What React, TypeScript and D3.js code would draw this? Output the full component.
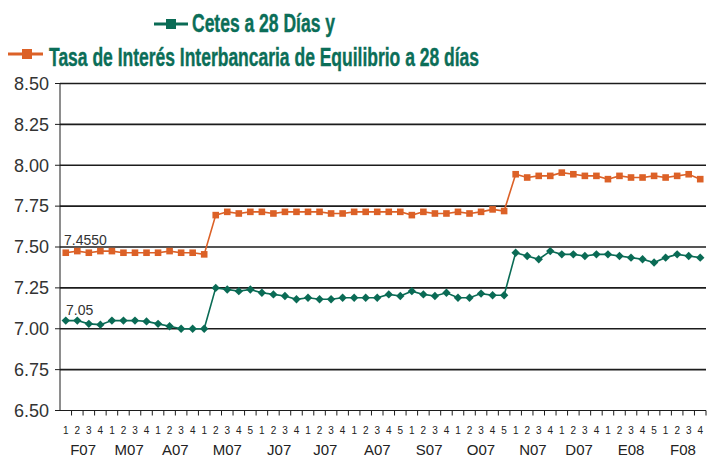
import React from "react";
import * as d3 from "d3";

const months = ["F07", "M07", "A07", "M07", "J07", "J07", "A07", "S07", "O07", "N07", "D07", "E08", "F08"];
const weeksPerMonth = [4, 4, 4, 5, 4, 4, 5, 4, 5, 4, 4, 5, 4];

const cetes = [
  7.05, 7.05, 7.03, 7.025, 7.05, 7.05, 7.05, 7.045, 7.03, 7.015, 7.0, 7.0, 7.0,
  7.25, 7.24, 7.23, 7.24, 7.22, 7.21, 7.2, 7.18, 7.19, 7.18, 7.18, 7.19, 7.19, 7.19, 7.19, 7.21, 7.2, 7.23, 7.21, 7.2,
  7.22, 7.19, 7.19, 7.215, 7.205, 7.205,
  7.465, 7.445, 7.425, 7.475, 7.455, 7.455, 7.445, 7.455, 7.455, 7.445, 7.435, 7.425, 7.405, 7.435, 7.455, 7.445, 7.435,
];

const tiie = [
  7.465, 7.475, 7.465, 7.475, 7.475, 7.465, 7.465, 7.465, 7.465, 7.475, 7.465, 7.465, 7.455,
  7.695, 7.715, 7.705, 7.715, 7.715, 7.705, 7.715, 7.715, 7.715, 7.715, 7.705, 7.705, 7.715, 7.715, 7.715, 7.715, 7.715, 7.695, 7.715, 7.705, 7.705, 7.715, 7.705, 7.715, 7.73, 7.72,
  7.945, 7.925, 7.935, 7.935, 7.955, 7.945, 7.935, 7.935, 7.915, 7.935, 7.925, 7.925, 7.935, 7.925, 7.935, 7.945, 7.915,
];

const yTicks = [6.5, 6.75, 7.0, 7.25, 7.5, 7.75, 8.0, 8.25, 8.5];
const titleLine1 = "Cetes a 28 Días y";
const titleLine2 = "Tasa de Interés Interbancaria de Equilibrio a 28 días";
const labelTiie = "7.4550";
const labelCetes = "7.05";

const GREEN = "#0a6b55";
const ORANGE = "#dc6127";
const TITLE = "#0b6e58";

export default function App() {
  const cats: { key: string; week: number; month: number }[] = [];
  weeksPerMonth.forEach((n, m) => {
    for (let w = 1; w <= n; w++) cats.push({ key: `${m}-${w}`, week: w, month: m });
  });

  const left = 60;
  const right = 706;
  const top = 83.5;
  const bottom = 410.5;

  const x = d3.scaleBand<string>().domain(cats.map((c) => c.key)).range([left, right]).padding(0);
  const y = d3.scaleLinear().domain([6.5, 8.5]).range([bottom, top]);
  const cx = (i: number) => (x(cats[i].key) as number) + x.bandwidth() / 2;

  const line = d3
    .line<number>()
    .x((_, i) => cx(i))
    .y((d) => y(d));

  const font = "'Liberation Sans', Arial, sans-serif";

  let idx = 0;
  const monthPos = weeksPerMonth.map((n, m) => {
    const start = x(cats[idx].key) as number;
    const end = (x(cats[idx + n - 1].key) as number) + x.bandwidth();
    idx += n;
    return { label: months[m], cx: (start + end) / 2 };
  });

  const diamond = (px: number, py: number, r: number) =>
    `M${px},${py - r}L${px + r},${py}L${px},${py + r}L${px - r},${py}Z`;

  return (
    <svg
      width={713}
      height={460}
      style={{ position: "absolute", left: 0, top: 0, background: "#fff" }}
      fontFamily={font}
    >
      <line x1={154} x2={188} y1={24} y2={24} stroke={GREEN} strokeWidth={3} />
      <rect x={166} y={19} width={10} height={10} fill={GREEN} />
      <text x={192} y={32} fontSize={25.5} fontWeight="bold" fill={TITLE} stroke={TITLE} strokeWidth={0.4} textLength={143} lengthAdjust="spacingAndGlyphs">
        {titleLine1}
      </text>
      <line x1={8} x2={43} y1={54} y2={54} stroke={ORANGE} strokeWidth={3} />
      <rect x={22} y={49} width={10} height={10} fill={ORANGE} />
      <text x={49} y={66} fontSize={25.5} fontWeight="bold" fill={TITLE} stroke={TITLE} strokeWidth={0.4} textLength={430} lengthAdjust="spacingAndGlyphs">
        {titleLine2}
      </text>

      {yTicks.map((t) => (
        <g key={t}>
          <line x1={left} x2={right} y1={y(t)} y2={y(t)} stroke="#1c1c1c" strokeWidth={t === 6.5 ? 1 : 1.6} />
          <line x1={left - 5} x2={left} y1={y(t)} y2={y(t)} stroke="#1c1c1c" strokeWidth={1} />
          <text x={49} y={y(t)} dy="0.35em" textAnchor="end" fontSize={18} fill="#333">
            {t.toFixed(2)}
          </text>
        </g>
      ))}
      <line x1={left} x2={left} y1={top} y2={bottom} stroke="#1c1c1c" strokeWidth={1} />

      {cats.map((c) => (
        <line
          key={"t" + c.key}
          x1={(x(c.key) as number) + x.bandwidth()}
          x2={(x(c.key) as number) + x.bandwidth()}
          y1={bottom}
          y2={bottom + 5}
          stroke="#1c1c1c"
          strokeWidth={1}
        />
      ))}
      {cats.map((c, i) => (
        <text key={"w" + c.key} x={cx(i)} y={430} dy="0.35em" textAnchor="middle" fontSize={10} fill="#222">
          {c.week}
        </text>
      ))}
      {monthPos.map((m, i) => (
        <text key={"m" + i} x={m.cx} y={450} dy="0.35em" textAnchor="middle" fontSize={15} fill="#222">
          {m.label}
        </text>
      ))}

      <path d={line(tiie) || ""} fill="none" stroke={ORANGE} strokeWidth={1.6} />
      {tiie.map((v, i) => (
        <rect key={"o" + i} x={cx(i) - 3.3} y={y(v) - 3.3} width={6.6} height={6.6} fill={ORANGE} />
      ))}
      <path d={line(cetes) || ""} fill="none" stroke={GREEN} strokeWidth={1.6} />
      {cetes.map((v, i) => (
        <path key={"g" + i} d={diamond(cx(i), y(v), 4.2)} fill={GREEN} />
      ))}

      <text x={64} y={240} dy="0.35em" fontSize={14} fill="#333">
        {labelTiie}
      </text>
      <text x={66} y={310} dy="0.35em" fontSize={14} fill="#333">
        {labelCetes}
      </text>
    </svg>
  );
}
